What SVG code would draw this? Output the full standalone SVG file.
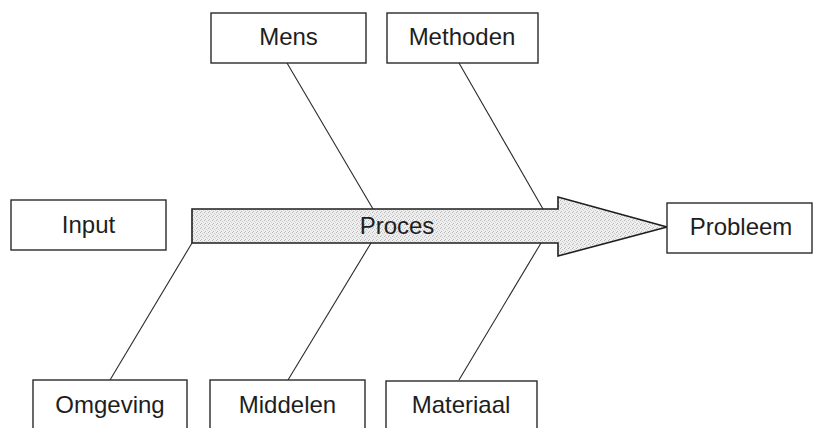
<svg xmlns="http://www.w3.org/2000/svg" width="814" height="428" viewBox="0 0 814 428">
  <style>
    .box { fill: #ffffff; stroke: #2a2a2a; stroke-width: 1.4; }
    .bone { fill: none; stroke: #2a2a2a; stroke-width: 1.1; }
    .label { font-family: "Liberation Sans", Arial, sans-serif; font-size: 24px; fill: #1e1e1e; text-anchor: middle; }
    .spine { fill: url(#stipple); stroke: #1e1e1e; stroke-width: 1.6; stroke-linejoin: miter; }
  </style>
  <defs>
    <!-- fine grey stipple for the process arrow -->
    <pattern id="stipple" width="4" height="4" patternUnits="userSpaceOnUse">
      <rect width="4" height="4" fill="#efefef"/>
      <rect x="0" y="0" width="1" height="1" fill="#b8b8b8"/>
      <rect x="2" y="1" width="1" height="1" fill="#c8c8c8"/>
      <rect x="1" y="3" width="1" height="1" fill="#bdbdbd"/>
      <rect x="3" y="2" width="1" height="1" fill="#d2d2d2"/>
    </pattern>
  </defs>

  <rect width="814" height="428" fill="#ffffff"/>

  <!-- cause branches -->
  <g id="connectors">
    <line class="bone" x1="287" y1="63" x2="373" y2="209"/>
    <line class="bone" x1="459" y1="63" x2="543" y2="209"/>
    <line class="bone" x1="192" y1="243" x2="110" y2="380"/>
    <line class="bone" x1="371" y1="243" x2="288" y2="380"/>
    <line class="bone" x1="541" y1="243" x2="459" y2="380"/>
  </g>

  <g id="proces">
    <polygon class="spine" points="192,209 558,209 558,197 667,227 558,256 558,243 192,243"/>
    <text class="label" x="397" y="234" font-size="22">Proces</text>
  </g>

  <g id="input">
    <rect class="box" x="11" y="200" width="155" height="50"/>
    <text class="label" x="88.5" y="233">Input</text>
  </g>

  <g id="probleem">
    <rect class="box" x="667" y="203" width="145" height="50"/>
    <text class="label" x="741" y="235">Probleem</text>
  </g>

  <g id="mens">
    <rect class="box" x="211" y="13" width="155" height="50"/>
    <text class="label" x="288.5" y="45">Mens</text>
  </g>

  <g id="methoden">
    <rect class="box" x="387" y="13" width="151" height="50"/>
    <text class="label" x="462" y="45">Methoden</text>
  </g>

  <g id="omgeving">
    <rect class="box" x="33" y="380" width="154" height="50"/>
    <text class="label" x="110" y="413">Omgeving</text>
  </g>

  <g id="middelen">
    <rect class="box" x="210" y="380" width="155" height="50"/>
    <text class="label" x="287.5" y="413">Middelen</text>
  </g>

  <g id="materiaal">
    <rect class="box" x="386" y="381" width="151" height="50"/>
    <text class="label" x="461" y="413">Materiaal</text>
  </g>
</svg>
